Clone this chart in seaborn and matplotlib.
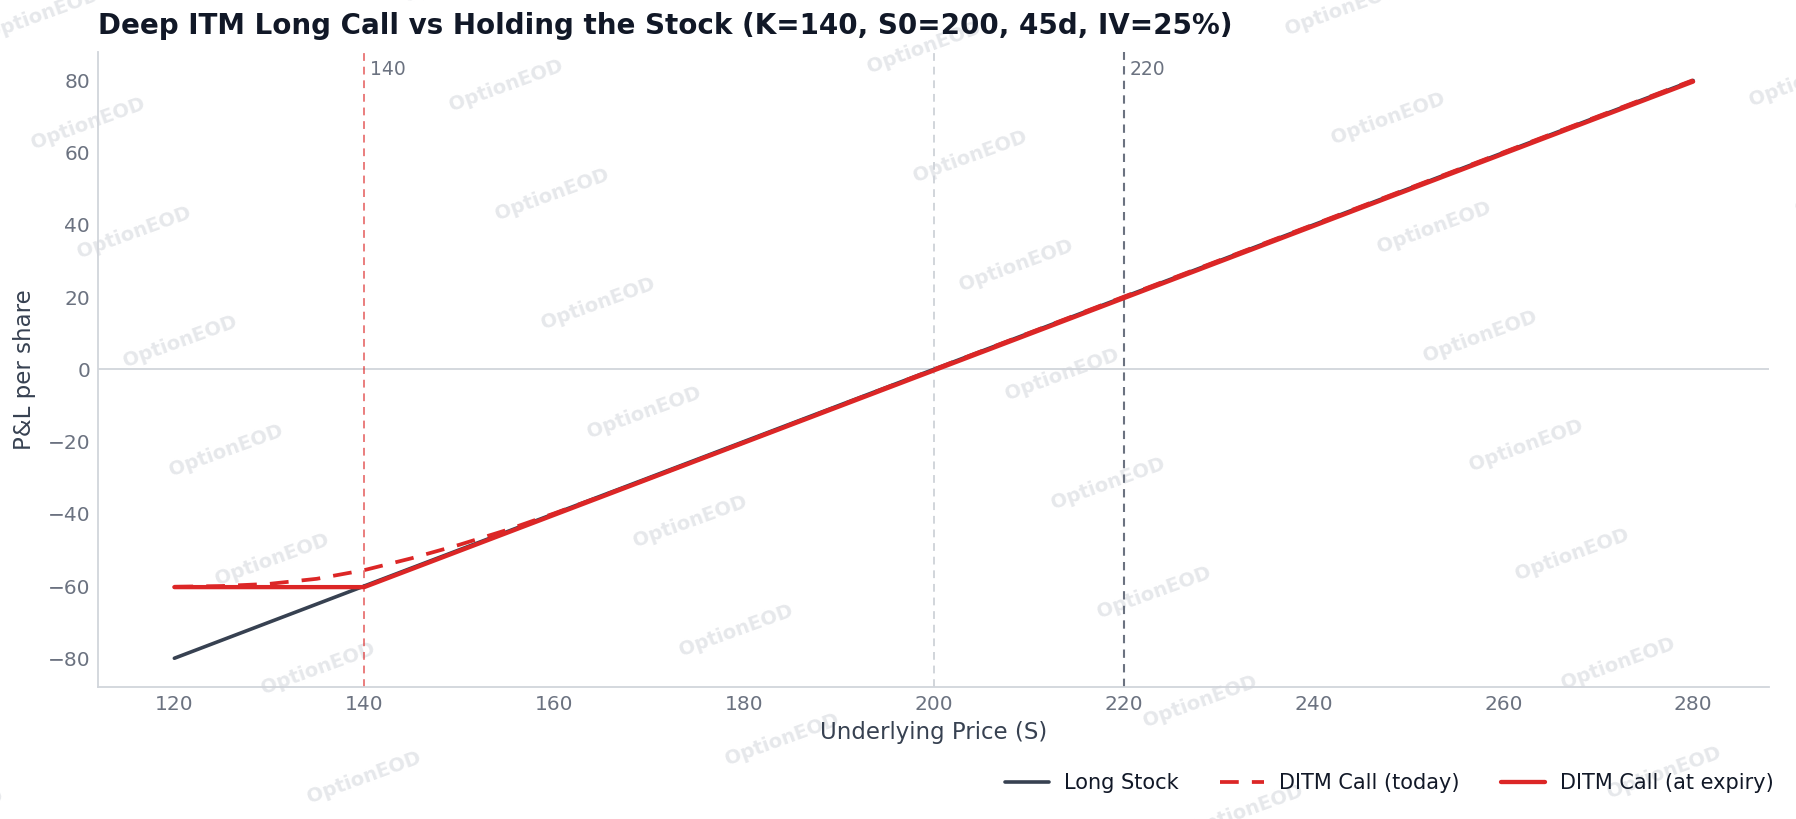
import matplotlib
matplotlib.use("Agg")
import matplotlib.pyplot as plt
import matplotlib.transforms as mtransforms
import seaborn as sns
import pandas as pd

# ---- data ----
stock_S = [120, 280]
stock_pnl = [-80.0, 80.0]

today_S = [120, 125, 130, 135, 140, 145, 150, 155, 160, 165, 170, 180, 190, 200, 220, 240, 260, 280]
today_pnl = [-60.2, -60.0, -59.4, -58.0, -55.6, -52.3, -48.6, -44.5, -39.9, -35.1, -30.2,
             -20.2, -10.1, 0.0, 20.1, 40.1, 60.1, 80.1]

expiry_S = [120, 140, 280]
expiry_pnl = [-60.3, -60.3, 79.7]

strike = 140
spot = 200
marker_220 = 220

title = "Deep ITM Long Call vs Holding the Stock (K=140, S0=200, 45d, IV=25%)"
xlabel = "Underlying Price (S)"
ylabel = "P&L per share"
series_labels = ["Long Stock", "DITM Call (today)", "DITM Call (at expiry)"]

# ---- style ----
sns.set_theme(style="white")
plt.rcParams["font.family"] = ["DejaVu Sans"]

SLATE = "#374151"
RED = "#dc2626"
TICK = "#6b7280"
LIGHT = "#d1d5db"

fig = plt.figure(figsize=(17.96, 8.19), dpi=100)
fig.patch.set_facecolor("white")
ax = fig.add_axes([0.0548, 0.161, 0.985 - 0.0548, 0.937 - 0.161])
ax.patch.set_alpha(0)

# watermark (behind axes content)
x0, y0 = 88, 124
for r in range(-2, 9):
    for c in range(-1, 6):
        px = x0 + 46 * r + 418 * c
        py = y0 + 109 * r - 38 * c
        if -60 < px < 1860 and -40 < py < 870:
            fig.text(px / 1796, 1 - py / 819, "OptionEOD", rotation=20,
                     ha="center", va="center", fontsize=14, fontweight="bold",
                     color="#9ca3af", alpha=0.25, zorder=-5)

df_stock = pd.DataFrame({"S": stock_S, "pnl": stock_pnl})
df_today = pd.DataFrame({"S": today_S, "pnl": today_pnl})
df_exp = pd.DataFrame({"S": expiry_S, "pnl": expiry_pnl})

ax.axhline(0, color=LIGHT, lw=1.3, zorder=1)
ax.axvline(strike, color=RED, alpha=0.6, lw=1.4, ls=(0, (4, 3)), zorder=1)
ax.axvline(spot, color=LIGHT, lw=1.4, ls=(0, (4, 3)), zorder=1)
ax.axvline(marker_220, color="#6b7280", lw=1.5, ls=(0, (4, 3)), zorder=1)

sns.lineplot(data=df_stock, x="S", y="pnl", ax=ax, color=SLATE, lw=2.6,
             label=series_labels[0], zorder=3)
sns.lineplot(data=df_today, x="S", y="pnl", ax=ax, color=RED, lw=2.7,
             linestyle=(0, (5, 3.5)), label=series_labels[1], zorder=4)
sns.lineplot(data=df_exp, x="S", y="pnl", ax=ax, color=RED, lw=3.1,
             label=series_labels[2], zorder=5)

trans = mtransforms.blended_transform_factory(ax.transData, ax.transAxes)
ax.text(strike + 0.6, 0.972, str(strike), transform=trans, ha="left", va="center",
        fontsize=13.5, color=TICK)
ax.text(marker_220 + 0.6, 0.972, str(marker_220), transform=trans, ha="left", va="center",
        fontsize=13.5, color=TICK)

ax.set_xlim(112, 288)
ax.set_ylim(-88, 88)
ax.set_xticks([120, 140, 160, 180, 200, 220, 240, 260, 280])
ax.set_yticks([-80, -60, -40, -20, 0, 20, 40, 60, 80])
ax.tick_params(axis="both", labelsize=14.5, colors=TICK, length=0, pad=6)
ax.set_xlabel(xlabel, fontsize=16.5, color=SLATE, labelpad=5)
ax.set_ylabel(ylabel, fontsize=16.5, color=SLATE, labelpad=8)

for s in ["top", "right"]:
    ax.spines[s].set_visible(False)
for s in ["left", "bottom"]:
    ax.spines[s].set_color(LIGHT)
    ax.spines[s].set_linewidth(1.3)

fig.text(0.0548, 1 - 26 / 819, title, ha="left", va="center", fontsize=20,
         fontweight="bold", color="#111827")

leg = ax.legend(loc="center right", bbox_to_anchor=(0.998, 0.044),
                bbox_transform=fig.transFigure, ncol=3, frameon=False,
                fontsize=15, handlelength=2.1, columnspacing=2.0, handletextpad=0.72)
for t in leg.get_texts():
    t.set_color("#111827")

fig.savefig("out.png", dpi=100, facecolor="white")
